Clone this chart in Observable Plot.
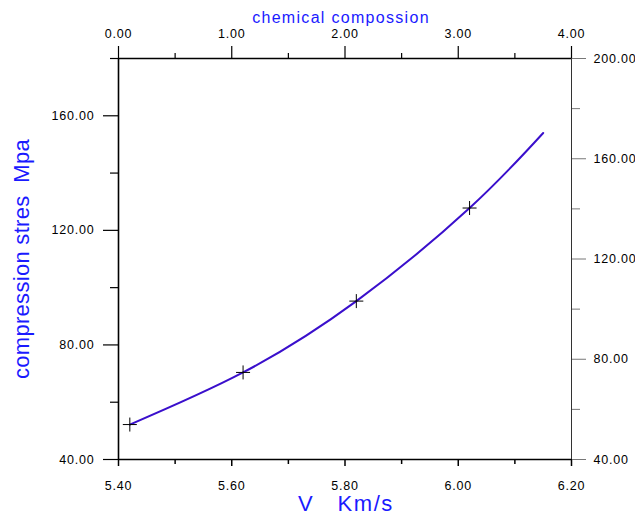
<!DOCTYPE html>
<html>
<head>
<meta charset="utf-8">
<script src="https://cdn.jsdelivr.net/npm/d3@7"></script>
<script src="https://cdn.jsdelivr.net/npm/@observablehq/plot@0.6"></script>
<style>
  html, body { margin: 0; padding: 0; background: #fff; }
  svg text { white-space: pre; }
</style>
</head>
<body>
<div id="chart"></div>
<script>
// Measured points (V, compression stress)
const vMeasured = [5.42, 5.62, 5.82, 6.02];
const stressMeasured = [52.2, 70.4, 95.3, 127.8];
// Fitted curve
const vCurve = [5.42, 5.62, 5.82, 6.02, 6.15];
const stressCurve = [52.2, 70.4, 95.3, 127.8, 154];

// Tick values
const bottomMajor = [5.4, 5.6, 5.8, 6.0, 6.2];
const bottomMinor = [5.5, 5.7, 5.9, 6.1];
const leftMajor = [40, 80, 120, 160];
const leftMinor = [60, 100, 140, 180];
const topMajor = [0, 1, 2, 3, 4];
const topMinor = [0.5, 1.5, 2.5, 3.5];
const rightMajor = [40, 80, 120, 160, 200];
const rightMinor = [60, 100, 140, 180];

const xTitle = "V   Km/s";
const yTitle = "compression stres  Mpa";
const topTitle = "chemical compossion";

const xDomain = [5.4, 6.2];
const yDomain = [40, 180];
const topDomain = [0, 4];
const rightDomain = [40, 200];

// secondary axis mappings onto primary scales
const topToX = c => xDomain[0] + (c - topDomain[0]) * (xDomain[1] - xDomain[0]) / (topDomain[1] - topDomain[0]);
const xToTop = x => topDomain[0] + (x - xDomain[0]) * (topDomain[1] - topDomain[0]) / (xDomain[1] - xDomain[0]);
const rightToY = s => yDomain[0] + (s - rightDomain[0]) * (yDomain[1] - yDomain[0]) / (rightDomain[1] - rightDomain[0]);
const yToRight = y => rightDomain[0] + (y - yDomain[0]) * (rightDomain[1] - rightDomain[0]) / (yDomain[1] - yDomain[0]);
const fmt = d => (Math.round(d * 100) / 100).toFixed(2);

const pts = vMeasured.map((v, i) => ({v, s: stressMeasured[i]}));
const curve = vCurve.map((v, i) => ({v, s: stressCurve[i]}));

const plusSymbol = {
  draw(ctx, size) {
    const r = Math.sqrt(size / Math.PI);
    ctx.moveTo(-r, 0); ctx.lineTo(r, 0);
    ctx.moveTo(0, -r); ctx.lineTo(0, r);
  }
};

const blue = "#1a1aff";
const font = 12.5;

const chart = Plot.plot({
  width: 635,
  height: 513,
  marginTop: 58,
  marginRight: 64,
  marginBottom: 54,
  marginLeft: 118,
  style: {fontFamily: "'Liberation Sans', Arial, sans-serif", fontSize: "12px", background: "#fff", overflow: "visible"},
  x: {domain: xDomain},
  y: {domain: yDomain},
  marks: [
    // bottom axis
    Plot.axisX(bottomMajor, {anchor: "bottom", tickSize: 7, tickPadding: 15, tickFormat: fmt, label: null, stroke: "#000", strokeWidth: 1.5, fill: "#000", fontSize: font}),
    Plot.axisX(bottomMinor, {anchor: "bottom", tickSize: 5, tickFormat: null, text: null, label: null, stroke: "#000", strokeWidth: 1.5}),
    // left axis
    Plot.axisY(leftMajor, {anchor: "left", tickSize: 15, tickPadding: 9, tickFormat: fmt, label: null, stroke: "#000", strokeWidth: 1.2, fill: "#000", fontSize: font}),
    Plot.axisY(leftMinor, {anchor: "left", tickSize: 8, tickFormat: null, text: null, label: null, stroke: "#000", strokeWidth: 1.2}),
    // top axis (chemical composition)
    Plot.axisX(topMajor.map(topToX), {anchor: "top", tickSize: 13, tickPadding: 8, tickFormat: d => fmt(xToTop(d)), label: null, stroke: "#000", strokeWidth: 1.2, fill: "#000", fontSize: font}),
    Plot.axisX(topMinor.map(topToX), {anchor: "top", tickSize: 6, tickFormat: null, text: null, label: null, stroke: "#000", strokeWidth: 1.2}),
    // right axis
    Plot.axisY(rightMajor.map(rightToY), {anchor: "right", tickSize: 14, tickPadding: 8, tickFormat: d => fmt(yToRight(d)), label: null, stroke: "#777", strokeWidth: 1, fill: "#000", fontSize: font}),
    Plot.axisY(rightMinor.map(rightToY), {anchor: "right", tickSize: 8, tickFormat: null, text: null, label: null, stroke: "#777", strokeWidth: 1}),
    // frame
    Plot.ruleY([yDomain[0]], {stroke: "#000", strokeWidth: 1.6}),
    Plot.ruleY([yDomain[1]], {stroke: "#000", strokeWidth: 1.5}),
    Plot.ruleX([xDomain[0]], {stroke: "#000", strokeWidth: 1.6}),
    Plot.ruleX([xDomain[1]], {stroke: "#333", strokeWidth: 1}),
    // curve
    Plot.line(curve, {x: "v", y: "s", curve: "natural", stroke: "#3a0fcc", strokeWidth: 2}),
    // measured points
    Plot.dot(pts, {x: "v", y: "s", symbol: plusSymbol, r: 7, stroke: "#000", strokeWidth: 1, fill: "none"}),
    // titles
    Plot.text([topTitle], {frameAnchor: "top", dy: -41, dx: -4, text: d => d, fill: blue, fontSize: 16, lineAnchor: "middle", textAnchor: "middle"}),
    Plot.text([xTitle], {frameAnchor: "bottom", dy: 44, dx: 1, text: d => d, fill: blue, fontSize: 22, lineAnchor: "middle", textAnchor: "middle"}),
    Plot.text([yTitle], {frameAnchor: "left", dx: -97, dy: 0, rotate: -90, text: d => d, fill: blue, fontSize: 22, lineAnchor: "middle", textAnchor: "middle"})
  ]
});
document.getElementById("chart").appendChild(chart);

// letter spacing to match the wide lettering of the original
const spacing = {[topTitle]: "1.3px", [xTitle]: "1.6px", [yTitle]: "0.3px"};
d3.select(chart).selectAll("text").each(function() {
  const t = this.textContent;
  this.style.letterSpacing = spacing[t] || "0.8px";
});
</script>
</body>
</html>
